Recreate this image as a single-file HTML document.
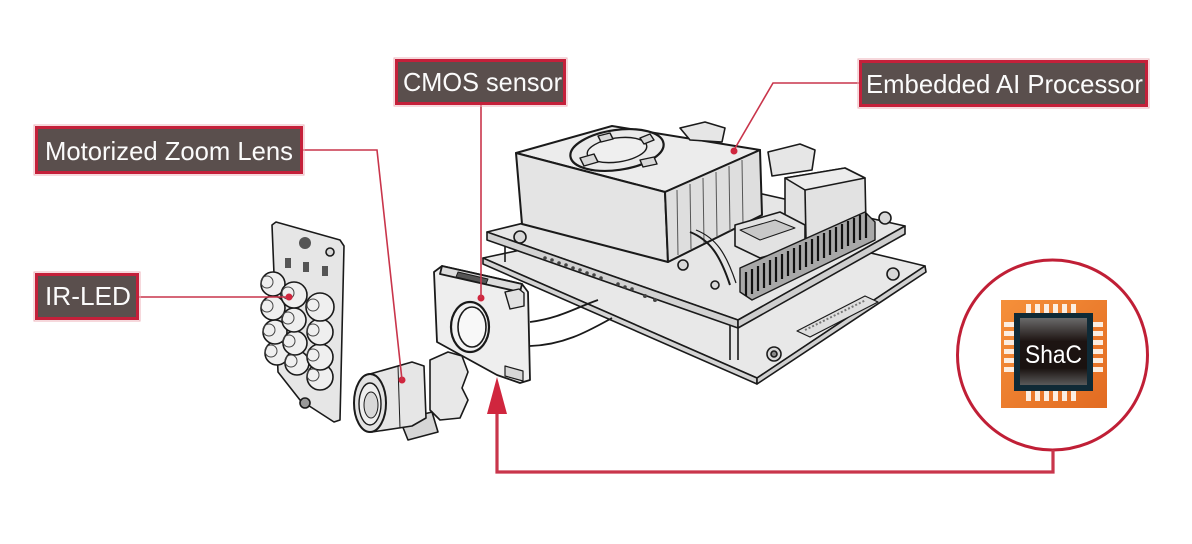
<!DOCTYPE html>
<html><head><meta charset="utf-8"><style>
html,body{margin:0;padding:0;background:#fff;}
svg{display:block;}
</style></head><body>
<svg width="1192" height="544" viewBox="0 0 1192 544" xmlns="http://www.w3.org/2000/svg">
<defs>
<linearGradient id="org" x1="0" y1="0" x2="1" y2="1"><stop offset="0" stop-color="#f5903a"/><stop offset="1" stop-color="#e26b22"/></linearGradient>
<linearGradient id="die" x1="0" y1="0" x2="0" y2="1"><stop offset="0" stop-color="#6a6a6a"/><stop offset="0.35" stop-color="#1d1412"/><stop offset="0.75" stop-color="#1a1210"/><stop offset="1" stop-color="#5a5a5a"/></linearGradient>
</defs>

<!-- ===== Main board ===== -->
<g stroke="#1a1a1a" stroke-width="1.6" stroke-linejoin="round" fill="#e8e8e8">
  <!-- lower base plate -->
  <polygon points="483,258 700,212 925,266 757,378"/>
  <polygon points="483,258 757,378 757,384 483,264" fill="#d4d4d4"/>
  <polygon points="757,378 925,266 926,272 757,384" fill="#d0d0d0"/>
  <!-- label plate on base -->
  <polygon points="797,331 865,296 878,302 810,337" fill="#dedede" stroke-width="1.2"/>
  <line x1="805" y1="330" x2="866" y2="300" stroke="#777" stroke-width="2" stroke-dasharray="2 2"/>
  <circle cx="774" cy="354" r="7" fill="#d8d8d8"/>
  <circle cx="774" cy="354" r="3" fill="#888"/>
  <circle cx="893" cy="274" r="6" fill="#d8d8d8"/>
  <!-- standoffs -->
  <line x1="730" y1="318" x2="730" y2="360"/><line x1="738" y1="318" x2="738" y2="360"/>
  <line x1="505" y1="240" x2="505" y2="262"/>
  <!-- upper board -->
  <polygon points="487,232 700,180 905,226 738,320" fill="#e6e6e6"/>
  <polygon points="487,232 738,320 738,328 487,240" fill="#d2d2d2"/>
  <polygon points="738,320 905,226 905,234 738,328" fill="#cecece"/>
  <!-- components on board edge -->
  <g fill="#444" stroke="none">
    <circle cx="545" cy="258" r="1.8"/><circle cx="552" cy="260" r="1.8"/><circle cx="559" cy="263" r="1.8"/><circle cx="566" cy="265" r="1.8"/><circle cx="573" cy="268" r="1.8"/><circle cx="580" cy="270" r="1.8"/><circle cx="587" cy="273" r="1.8"/><circle cx="594" cy="275" r="1.8"/><circle cx="601" cy="278" r="1.8"/><circle cx="618" cy="284" r="1.8"/><circle cx="625" cy="287" r="1.8"/><circle cx="632" cy="289" r="1.8"/><circle cx="645" cy="296" r="2"/><circle cx="655" cy="300" r="2"/>
  </g>
  <circle cx="520" cy="237" r="6" fill="#d8d8d8"/>
  <circle cx="885" cy="218" r="6" fill="#d8d8d8"/>
  <!-- heatsink -->
  <polygon points="516,153 612,126 760,150 665,192" fill="#ececec" stroke-width="2"/>
  <polygon points="516,153 665,192 668,262 522,224" fill="#e4e4e4" stroke-width="2"/>
  <polygon points="665,192 760,150 762,215 668,262" fill="#dedede" stroke-width="2"/>
  <g stroke-width="1" stroke="#555">
    <line x1="677" y1="190" x2="678" y2="255"/><line x1="690" y1="184" x2="691" y2="249"/><line x1="703" y1="178" x2="704" y2="243"/><line x1="716" y1="172" x2="717" y2="237"/><line x1="729" y1="166" x2="730" y2="231"/><line x1="742" y1="160" x2="743" y2="225"/>
  </g>
  <!-- fan -->
  <ellipse cx="617" cy="150" rx="47" ry="20" fill="#eaeaea" stroke-width="2.2" transform="rotate(-8 617 150)"/>
  <ellipse cx="617" cy="150" rx="30" ry="12" fill="#efefef" stroke-width="1.4" transform="rotate(-8 617 150)"/>
  <path d="M580,158 l14,-4 l4,8 l-14,4z M640,160 l14,-3 l3,7 l-14,3z M598,136 l12,-3 l3,6 l-12,3z M640,138 l10,-4 l4,6 l-10,4z" fill="#d8d8d8" stroke-width="1.4"/>
  <!-- rear connectors -->
  <polygon points="680,128 705,122 725,128 722,142 690,140" fill="#e6e6e6"/>
  <polygon points="768,152 800,144 815,150 812,170 772,176" fill="#e6e6e6"/>
  <polygon points="785,178 845,168 865,178 866,226 800,242 785,220" fill="#e2e2e2"/>
  <polygon points="785,178 845,168 865,178 805,190" fill="#ececec"/>
  <line x1="805" y1="190" x2="806" y2="240"/>
  <!-- small board parts -->
  <polygon points="735,225 780,212 805,225 805,245 760,258 735,246" fill="#e2e2e2"/>
  <polygon points="740,230 775,220 795,228 760,240" fill="#c8c8c8" stroke-width="1"/>
  <path d="M690,232 C710,240 720,255 730,285" fill="none" stroke-width="2"/>
  <path d="M696,230 C716,238 726,253 736,283" fill="none" stroke-width="1.2"/>
  <!-- pin header -->
  <polygon points="740,268 865,212 875,222 875,240 752,300 740,292" fill="#a8a8a8" stroke-width="1.4"/>
  <g stroke="#111" stroke-width="2.2">
    <line x1="746" y1="272" x2="746" y2="296"/><line x1="752" y1="269" x2="752" y2="294"/><line x1="758" y1="266" x2="758" y2="291"/><line x1="764" y1="263" x2="764" y2="288"/><line x1="770" y1="260" x2="770" y2="285"/><line x1="776" y1="257" x2="776" y2="282"/><line x1="782" y1="254" x2="782" y2="279"/><line x1="788" y1="251" x2="788" y2="276"/><line x1="794" y1="248" x2="794" y2="273"/><line x1="800" y1="245" x2="800" y2="270"/><line x1="806" y1="242" x2="806" y2="267"/><line x1="812" y1="239" x2="812" y2="264"/><line x1="818" y1="236" x2="818" y2="261"/><line x1="824" y1="233" x2="824" y2="258"/><line x1="830" y1="230" x2="830" y2="255"/><line x1="836" y1="227" x2="836" y2="252"/><line x1="842" y1="224" x2="842" y2="249"/><line x1="848" y1="221" x2="848" y2="246"/><line x1="854" y1="218" x2="854" y2="243"/><line x1="860" y1="215" x2="860" y2="240"/><line x1="866" y1="213" x2="866" y2="238"/>
  </g>
  <circle cx="683" cy="265" r="5" fill="#d8d8d8"/>
  <circle cx="715" cy="285" r="4" fill="#d8d8d8"/>
</g>

<!-- ===== CMOS module ===== -->
<g stroke="#1a1a1a" stroke-width="1.8" stroke-linejoin="round">
  <path d="M530,322 C560,318 575,308 598,300" fill="none"/>
  <path d="M530,346 C565,345 590,330 612,318" fill="none"/>
  <polygon points="434,272 442,266 522,284 528,292 530,380 520,383 497,375 437,342" fill="#eeeeee"/>
  <polygon points="442,266 522,284 520,292 440,274" fill="#dcdcdc"/>
  <polygon points="458,272 488,279 486,284 456,277" fill="#555" stroke-width="1"/>
  <path d="M505,292 l14,-3 l5,4 l0,13 l-14,3 z" fill="#e2e2e2" stroke-width="1.4"/>
  <path d="M505,366 l18,5 l0,10 l-18,-5z" fill="#d6d6d6" stroke-width="1.2"/>
  <ellipse cx="470" cy="327" rx="19" ry="25" fill="#f2f2f2" stroke-width="2.2"/>
  <ellipse cx="472" cy="327" rx="14" ry="20" fill="#f8f8f8" stroke-width="1.6"/>
  <circle cx="481" cy="298" r="3.5" fill="#d0263e" stroke="none"/>
</g>

<!-- ===== Lens ===== -->
<g stroke="#1a1a1a" stroke-width="1.6" stroke-linejoin="round">
  <polygon points="430,360 448,352 462,356 468,372 462,388 468,400 460,418 440,420 430,410" fill="#e8e8e8"/>
  <polygon points="400,420 432,412 438,432 408,440" fill="#d6d6d6"/>
  <path d="M370,374 L412,362 L424,366 L426,418 L412,426 L372,432 Z" fill="#e6e6e6"/>
  <line x1="398" y1="366" x2="400" y2="428" stroke-width="1"/>
  <ellipse cx="370" cy="403" rx="16" ry="29" fill="#e2e2e2" stroke-width="2"/>
  <ellipse cx="370" cy="404" rx="11" ry="21" fill="#eeeeee" stroke-width="1.4"/>
  <ellipse cx="371" cy="405" rx="7" ry="13" fill="#d8d8d8" stroke-width="1"/>
  <circle cx="402" cy="380" r="3.5" fill="#d0263e" stroke="none"/>
</g>

<!-- ===== IR-LED board ===== -->
<g stroke="#1a1a1a" stroke-width="1.6" stroke-linejoin="round">
  <polygon points="272,225 276,222 340,240 344,246 340,420 334,422 300,400 278,372" fill="#e6e6e6"/>
  <g fill="#555" stroke="none">
    <rect x="285" y="258" width="6" height="10"/><rect x="303" y="262" width="6" height="10"/><rect x="322" y="266" width="6" height="10"/>
  </g>
  <circle cx="305" cy="243" r="6" fill="#555" stroke="none"/>
  <circle cx="330" cy="252" r="4" fill="#d8d8d8"/>
  <circle cx="305" cy="403" r="5" fill="#999"/>
  <g fill="#efefef" stroke-width="1.6">
    <circle cx="277" cy="353" r="12"/><circle cx="297" cy="363" r="12"/><circle cx="320" cy="377" r="13"/>
    <circle cx="275" cy="332" r="12"/><circle cx="295" cy="343" r="12"/><circle cx="320" cy="357" r="13"/>
    <circle cx="273" cy="308" r="12"/><circle cx="294" cy="320" r="12"/><circle cx="320" cy="332" r="13"/>
    <circle cx="273" cy="284" r="12"/><circle cx="294" cy="295" r="13"/><circle cx="320" cy="307" r="14"/>
  </g>
  <g fill="none" stroke-width="1" stroke="#444">
    <circle cx="271" cy="351" r="6"/><circle cx="291" cy="361" r="6"/><circle cx="313" cy="375" r="6"/>
    <circle cx="269" cy="330" r="6"/><circle cx="289" cy="341" r="6"/><circle cx="313" cy="355" r="6"/>
    <circle cx="267" cy="306" r="6"/><circle cx="288" cy="318" r="6"/><circle cx="313" cy="330" r="6"/>
    <circle cx="267" cy="282" r="6"/><circle cx="288" cy="293" r="6"/><circle cx="313" cy="305" r="6"/>
  </g>
</g>

<!-- ===== Connectors ===== -->
<g stroke="#c9354b" stroke-width="1.6" fill="none">
  <polyline points="303,150 377,150 402,380"/>
  <line x1="139" y1="297" x2="289" y2="297"/>
  <line x1="481" y1="105" x2="481" y2="298"/>
  <polyline points="859,83 773,83 734,150"/>
</g>
<g fill="#d0263e">
  <circle cx="289" cy="297" r="3.5"/>
  <circle cx="734" cy="151" r="3.5"/>
</g>

<!-- ===== Label boxes ===== -->
<g>
  <rect x="34" y="125" width="270" height="50" fill="none" stroke="#eeb0b8" stroke-width="1"/>
  <rect x="36.5" y="127.5" width="265" height="45" fill="#5a4f4d" stroke="#c4203a" stroke-width="3"/>
  <rect x="34" y="272" width="106" height="49" fill="none" stroke="#eeb0b8" stroke-width="1"/>
  <rect x="36.5" y="274.5" width="101" height="44" fill="#5a4f4d" stroke="#c4203a" stroke-width="3"/>
  <rect x="394" y="58" width="173" height="48" fill="none" stroke="#eeb0b8" stroke-width="1"/>
  <rect x="396.5" y="60.5" width="168" height="43" fill="#5a4f4d" stroke="#c4203a" stroke-width="3"/>
  <rect x="858" y="59" width="291" height="49" fill="none" stroke="#eeb0b8" stroke-width="1"/>
  <rect x="860.5" y="61.5" width="286" height="44" fill="#5a4f4d" stroke="#c4203a" stroke-width="3"/>
</g>
<g fill="#fbfbfb" font-family="'Liberation Sans', sans-serif" font-size="26">
  <text x="45" y="160" textLength="248" lengthAdjust="spacingAndGlyphs">Motorized Zoom Lens</text>
  <text x="45" y="305" textLength="86" lengthAdjust="spacingAndGlyphs">IR-LED</text>
  <text x="403" y="91" textLength="159" lengthAdjust="spacingAndGlyphs">CMOS sensor</text>
  <text x="866" y="93" textLength="277" lengthAdjust="spacingAndGlyphs">Embedded AI Processor</text>
</g>

<!-- ===== ShaC circle & chip ===== -->
<circle cx="1052.5" cy="355" r="95" fill="#fff" stroke="#c01f36" stroke-width="3"/>
<rect x="1001" y="300" width="106" height="108" fill="url(#org)"/>
<g fill="#fbeee2">
  <rect x="1026" y="304" width="5" height="10"/><rect x="1035" y="304" width="5" height="10"/><rect x="1044" y="304" width="5" height="10"/><rect x="1053" y="304" width="5" height="10"/><rect x="1062" y="304" width="5" height="10"/><rect x="1071" y="304" width="5" height="10"/>
  <rect x="1026" y="390" width="5" height="11"/><rect x="1035" y="390" width="5" height="11"/><rect x="1044" y="390" width="5" height="11"/><rect x="1053" y="390" width="5" height="11"/><rect x="1062" y="390" width="5" height="11"/><rect x="1071" y="390" width="5" height="11"/>
  <rect x="1004" y="322" width="11" height="5"/><rect x="1004" y="331" width="11" height="5"/><rect x="1004" y="340" width="11" height="5"/><rect x="1004" y="349" width="11" height="5"/><rect x="1004" y="358" width="11" height="5"/><rect x="1004" y="367" width="11" height="5"/>
  <rect x="1092" y="322" width="11" height="5"/><rect x="1092" y="331" width="11" height="5"/><rect x="1092" y="340" width="11" height="5"/><rect x="1092" y="349" width="11" height="5"/><rect x="1092" y="358" width="11" height="5"/><rect x="1092" y="367" width="11" height="5"/>
</g>
<rect x="1014" y="313" width="79" height="78" fill="#0f2a36"/>
<rect x="1020" y="318" width="67" height="67" fill="url(#die)"/>
<text x="1053.5" y="363" text-anchor="middle" fill="#ffffff" font-family="'Liberation Sans', sans-serif" font-size="25" textLength="57" lengthAdjust="spacingAndGlyphs">ShaC</text>

<!-- ===== Feedback arrow ===== -->
<polyline points="1053,450 1053,472 497,472 497,410" fill="none" stroke="#c9354b" stroke-width="3.2"/>
<polygon points="497,377 487,414 507,414" fill="#d0263e"/>
</svg>
</body></html>
